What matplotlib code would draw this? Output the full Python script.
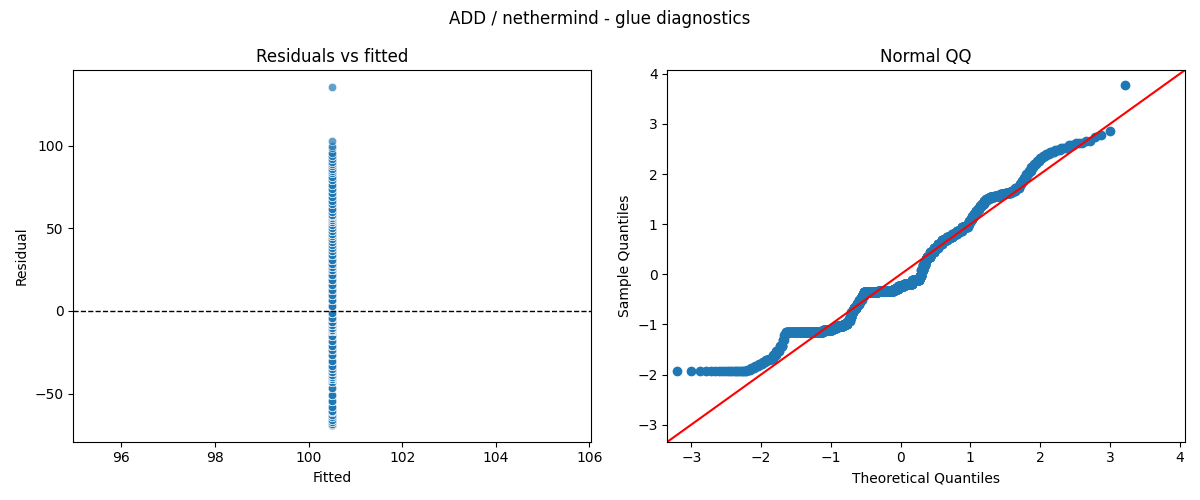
import statistics
import numpy as np
import matplotlib
matplotlib.use('Agg')
import matplotlib.pyplot as plt
from matplotlib.ticker import MultipleLocator
import seaborn as sns

# constant model, every observation gets the same fitted value
fitted_value = 100.5

# residual levels (sorted) and how many observations sit at each level
residual_levels = [-68.9, -68.2, -67.1, -65.7, -64.3, -62.8, -61.4, -60.3, -58.1, -54.6,
                   -51.0, -46.7, -43.1, -41.0, -39.9, -38.5, -37.1, -35.3, -33.1, -30.3,
                   -26.7, -23.8, -21.0, -18.1, -15.3, -12.4, -11.7, -10.6, -8.5, -6.7,
                   -4.2, -1.0, 3.3, 6.9, 9.7, 12.6, 15.8, 19.0, 21.8, 24.7,
                   26.8, 28.6, 30.8, 33.6, 36.1, 37.9, 39.7, 41.5, 43.3, 45.1,
                   46.8, 48.6, 50.4, 52.2, 53.6, 55.0, 56.1, 57.2, 58.3, 59.7,
                   61.8, 64.7, 66.8, 69.0, 71.5, 74.0, 76.5, 79.0, 81.1, 83.3,
                   84.7, 86.1, 87.5, 89.0, 90.4, 92.2, 94.0, 95.7, 98.5, 100.0,
                   102.8, 135.4]
residual_counts = [20, 3, 4, 4, 4, 4, 5, 6, 5, 7,
                   6, 3, 3, 126, 45, 25, 40, 25, 15, 10,
                   15, 20, 20, 17, 15, 113, 131, 39, 50, 70,
                   60, 15, 15, 15, 12, 30, 30, 28, 30, 35,
                   36, 29, 30, 33, 8, 8, 8, 8, 9, 9,
                   9, 9, 9, 9, 14, 18, 19, 15, 15, 10,
                   9, 4, 4, 4, 4, 4, 4, 4, 4, 3,
                   3, 4, 4, 4, 4, 3, 3, 2, 1, 1,
                   1, 1]

title = 'ADD / nethermind - glue diagnostics'


def residuals_vs_fitted(ax, fitted, resid):
    sns.scatterplot(x=fitted, y=resid, alpha=0.7, ax=ax)
    ax.axhline(0, color='black', linestyle='--', linewidth=1)
    ax.yaxis.set_major_locator(MultipleLocator(50))
    ax.set_title('Residuals vs fitted')
    ax.set_xlabel('Fitted')
    ax.set_ylabel('Residual')


def normal_qq(ax, resid):
    sample = np.sort(resid)
    sample = (sample - sample.mean()) / sample.std()
    n = len(sample)
    nd = statistics.NormalDist()
    theoretical = np.array([nd.inv_cdf(i / (n + 1)) for i in range(1, n + 1)])

    ax.plot(theoretical, sample, 'o')
    lo, hi = -3.34, 4.07
    ax.plot([lo, hi], [lo, hi], 'r')
    ax.set_xlim(lo, hi)
    ax.set_ylim(lo, hi)
    ax.set_title('Normal QQ')
    ax.set_xlabel('Theoretical Quantiles')
    ax.set_ylabel('Sample Quantiles')


if __name__ == '__main__':
    resid = np.repeat(residual_levels, residual_counts)
    fitted = np.full(len(resid), fitted_value)

    fig, axes = plt.subplots(1, 2, figsize=(12, 5))
    residuals_vs_fitted(axes[0], fitted, resid)
    normal_qq(axes[1], resid)
    fig.suptitle(title)
    plt.tight_layout()
    plt.savefig('out.png', dpi=100)
